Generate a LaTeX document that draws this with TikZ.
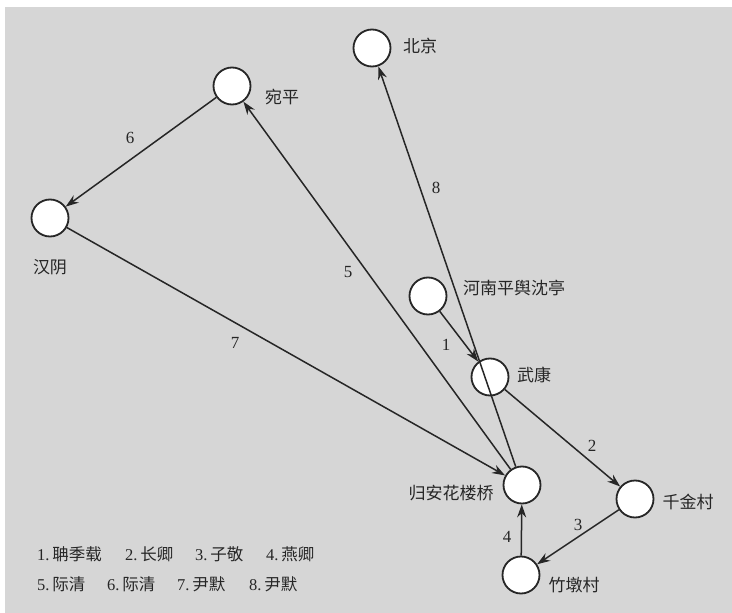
\documentclass[tikz,border=0pt]{standalone}
\usepackage{fontspec}
\setmainfont{Liberation Serif}
\newfontfamily\cjk{Noto Sans CJK SC}
\usetikzlibrary{arrows.meta}
\definecolor{paper}{HTML}{D6D6D6}
\definecolor{ink}{HTML}{262626}
\tikzset{
  city/.style={circle, draw=ink, line width=1.8pt, fill=white, minimum size=37pt, inner sep=0pt},
  place/.style={text=ink, font=\fontsize{17}{20}\selectfont\cjk, inner sep=0pt},
  num/.style={text=ink, font=\fontsize{17}{20}\selectfont, inner sep=0pt},
  legend/.style={text=ink, font=\fontsize{16.5}{20}\selectfont, inner sep=0pt, anchor=west},
  route/.style={draw=ink, line width=1.5pt, -{Stealth[length=13pt, width=9pt]}},
}
\begin{document}
\begin{tikzpicture}[x=1pt, y=-1pt]
\useasboundingbox (0,0) rectangle (732,613);
\fill[white] (0,0) rectangle (732,613);
\fill[paper] (5,7) rectangle (732,613);
% cities
\node[city] (bj) at (372,48) {};
\node[city] (wp) at (232,86) {};
\node[city] (hy) at (50,218) {};
\node[city] (hn) at (428,296) {};
\node[city] (wk) at (490,377) {};
\node[city] (ga) at (522,485) {};
\node[city] (qj) at (635,499) {};
\node[city] (zd) at (521,575) {};
% names
\node[place] (tbj) at (420,46) {北京};
\node[place] (twp) at (282,97) {宛平};
\node[place] (thy) at (50,267) {汉阴};
\node[place] (thn) at (514,288) {河南平舆沈亭};
\node[place] (twk) at (534,375) {武康};
\node[place] (tga) at (451,493) {归安花楼桥};
\node[place] (tqj) at (688,502) {千金村};
\node[place] (tzd) at (574,585) {竹墩村};
% routes
\draw[route] (hn) -- (wk);
\draw[route] (wk) -- (qj);
\draw[route] (qj) -- (zd);
\draw[route] (zd) -- (ga);
\draw[route] (ga) -- (wp);
\draw[route] (wp) -- (hy);
\draw[route] (hy) -- (ga);
\draw[route] (ga) -- (bj);
% route numbers
\node[num] (n1) at (446,345) {1};
\node[num] (n2) at (592,446) {2};
\node[num] (n3) at (578,525) {3};
\node[num] (n4) at (507,537) {4};
\node[num] (n5) at (348,272) {5};
\node[num] (n6) at (130,138) {6};
\node[num] (n7) at (235,343) {7};
\node[num] (n8) at (436,188) {8};
% legend
\node[legend] (l1) at (37,554) {1.\,{\cjk 聃季载}};
\node[legend] (l2) at (125,554) {2.\,{\cjk 长卿}};
\node[legend] (l3) at (195,554) {3.\,{\cjk 子敬}};
\node[legend] (l4) at (266,554) {4.\,{\cjk 燕卿}};
\node[legend] (l5) at (37,584) {5.\,{\cjk 际清}};
\node[legend] (l6) at (107,584) {6.\,{\cjk 际清}};
\node[legend] (l7) at (177,584) {7.\,{\cjk 尹默}};
\node[legend] (l8) at (249,584) {8.\,{\cjk 尹默}};
\end{tikzpicture}
\end{document}
